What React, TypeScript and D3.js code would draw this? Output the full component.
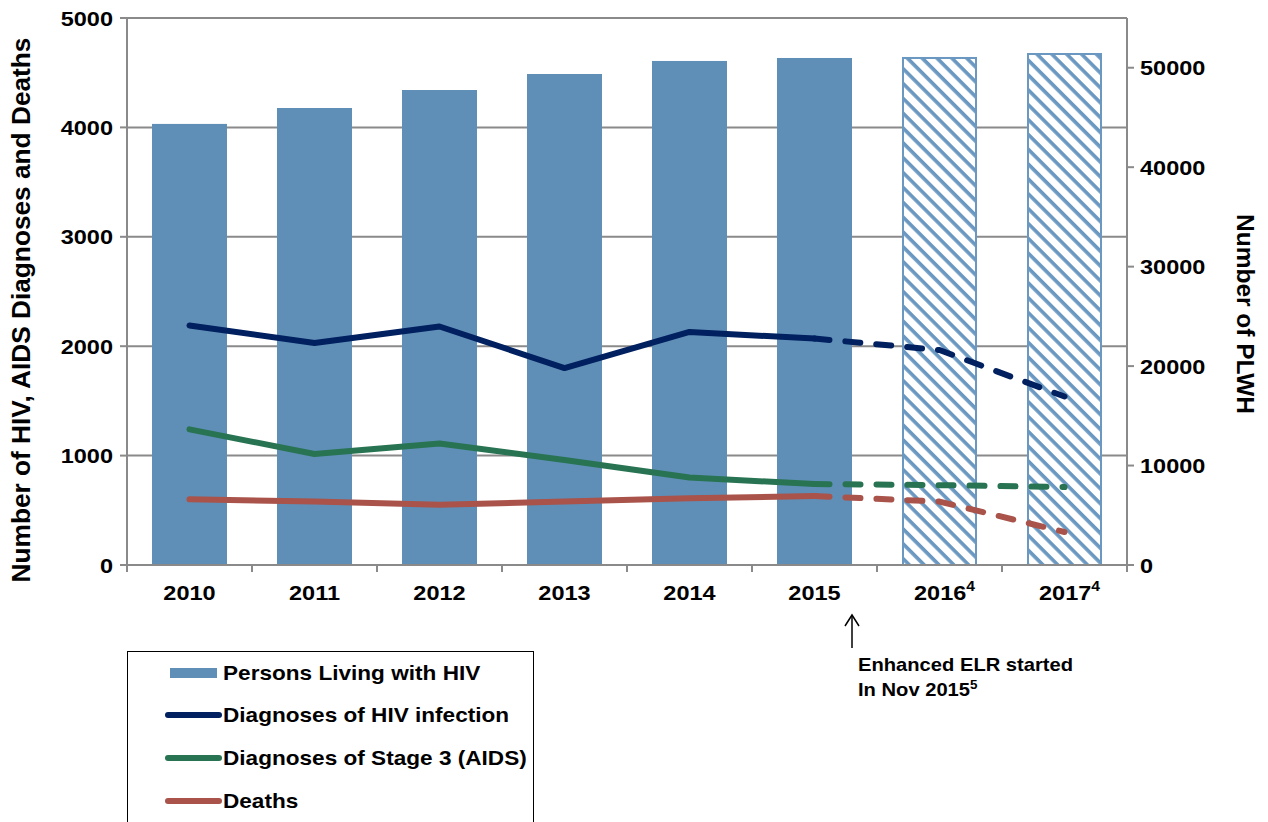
import React from 'react';
import * as d3 from 'd3';

const years = ['2010', '2011', '2012', '2013', '2014', '2015', '2016', '2017'];
const yearSup = ['', '', '', '', '', '', '4', '4'];
const plwh = [44350, 45950, 47760, 49370, 50680, 50980, 50980, 51380];
const projected = [false, false, false, false, false, false, true, true];
const hivDiagnoses = [2190, 2030, 2180, 1800, 2130, 2070, 1965, 1540];
const aidsDiagnoses = [1240, 1015, 1110, 960, 800, 740, 730, 712];
const deaths = [600, 580, 550, 580, 610, 630, 580, 302];
const leftTicks = [0, 1000, 2000, 3000, 4000, 5000];
const rightTicks = [0, 10000, 20000, 30000, 40000, 50000];

const barColor = '#5f8fb7';
const hatchColor = '#6a98c1';
const navy = '#002060';
const green = '#287352';
const red = '#a9534a';
const grid = '#8a8a8a';
const font = '"Liberation Sans", Arial, sans-serif';

const series = [
  { name: 'Diagnoses of HIV infection', values: hivDiagnoses, color: navy },
  { name: 'Diagnoses of Stage 3 (AIDS)', values: aidsDiagnoses, color: green },
  { name: 'Deaths', values: deaths, color: red },
];

// bold text, stretched a little along its baseline like the original rendering
const T: React.FC<{ x: number; y: number; size: number; sx?: number; rot?: number; anchor?: string; children: React.ReactNode }> =
  ({ x, y, size, sx = 1.12, rot = 0, anchor = 'start', children }) => (
    <g transform={`translate(${x},${y}) rotate(${rot}) scale(${sx},1)`}>
      <text x={0} y={0} fontSize={size} fontWeight="bold" textAnchor={anchor}>{children}</text>
    </g>
  );

const App: React.FC = () => {
  const left = 127, right = 1127, top = 18, bottom = 565;

  const x = d3.scaleBand().domain(years).range([left, right]).paddingInner(0.4).paddingOuter(0.2);
  const band = d3.scaleBand().domain(years).range([left, right]);
  const yL = d3.scaleLinear().domain([0, 5000]).range([bottom, top]);
  const yR = d3.scaleLinear().domain([0, 55000]).range([bottom, top]);

  const cx = (i: number) => (x(years[i]) as number) + x.bandwidth() / 2;
  const line = d3.line<[number, number]>().x(d => d[0]).y(d => d[1]);

  return (
    <svg width={1268} height={822} style={{ position: 'absolute', left: 0, top: 0, display: 'block' }} fontFamily={font}>
      <defs>
        <pattern id="hatch" width={10.5} height={10.5} patternUnits="userSpaceOnUse" patternTransform="rotate(-45)">
          <rect width={10.5} height={10.5} fill="#fff" />
          <line x1={2} y1={0} x2={2} y2={10.5} stroke={hatchColor} strokeWidth={3.6} />
        </pattern>
      </defs>
      <rect width={1268} height={822} fill="#fff" />

      {/* grid lines */}
      {leftTicks.filter(t => t > 0).map(t => (
        <line key={t} x1={left} x2={right} y1={yL(t)} y2={yL(t)} stroke={grid} strokeWidth={2} />
      ))}

      {/* bars */}
      {years.map((yr, i) => projected[i] ? (
        <rect key={yr} x={(x(yr) as number) + 1} y={yR(plwh[i])} width={x.bandwidth() - 2} height={bottom - yR(plwh[i])}
          fill="url(#hatch)" stroke={hatchColor} strokeWidth={2} />
      ) : (
        <rect key={yr} x={x(yr)} y={yR(plwh[i])} width={x.bandwidth()} height={bottom - yR(plwh[i])} fill={barColor} />
      ))}

      {/* axes */}
      <line x1={left} x2={left} y1={top} y2={bottom} stroke={grid} strokeWidth={2} />
      <line x1={right} x2={right} y1={top} y2={bottom} stroke={grid} strokeWidth={2} />
      <line x1={left - 7} x2={right} y1={bottom} y2={bottom} stroke={grid} strokeWidth={2} />
      {leftTicks.map(t => (
        <g key={t}>
          <line x1={left - 7} x2={left} y1={yL(t)} y2={yL(t)} stroke={grid} strokeWidth={2} />
          <T x={113} y={yL(t) + 7.5} size={21} anchor="end">{t}</T>
        </g>
      ))}
      {rightTicks.map(t => (
        <g key={t}>
          <line x1={right} x2={right + 7} y1={yR(t)} y2={yR(t)} stroke={grid} strokeWidth={2} />
          <T x={1140} y={yR(t) + 7.5} size={21}>{t}</T>
        </g>
      ))}
      {years.map(yr => (
        <line key={yr} x1={band(yr)} x2={band(yr)} y1={bottom} y2={bottom + 7} stroke={grid} strokeWidth={2} />
      ))}
      <line x1={right} x2={right} y1={bottom} y2={bottom + 7} stroke={grid} strokeWidth={2} />
      {years.map((yr, i) => (
        <T key={yr} x={cx(i) + (yearSup[i] ? 5 : 0)} y={600} size={21} anchor="middle">
          {yr}
          {yearSup[i] && <tspan fontSize={14} dy={-9}>{yearSup[i]}</tspan>}
        </T>
      ))}

      {/* lines */}
      {series.map(s => {
        const pts = s.values.map((v, i) => [cx(i), yL(v)] as [number, number]);
        return (
          <g key={s.name}>
            <path d={line(pts.slice(0, 6)) || ''} fill="none" stroke={s.color} strokeWidth={6}
              strokeLinecap="round" strokeLinejoin="round" />
            <path d={line(pts.slice(5)) || ''} fill="none" stroke={s.color} strokeWidth={6}
              strokeLinecap="round" strokeLinejoin="round" strokeDasharray="15 16" />
          </g>
        );
      })}

      {/* axis titles */}
      <T x={30} y={310} size={25} sx={1.05} rot={-90} anchor="middle">Number of HIV, AIDS Diagnoses and Deaths</T>
      <T x={1237} y={314} size={24} sx={1.02} rot={90} anchor="middle">Number of PLWH</T>

      {/* annotation */}
      <line x1={852} x2={852} y1={648} y2={616} stroke="#000" strokeWidth={1.5} />
      <path d="M845,626 L852,615 L859,626" fill="none" stroke="#000" strokeWidth={1.5} />
      <T x={858} y={671} size={18} sx={1.12}>Enhanced ELR started</T>
      <T x={858} y={696} size={18} sx={1.12}>
        In Nov 2015<tspan fontSize={12} dy={-7}>5</tspan>
      </T>

      {/* legend */}
      <rect x={127.5} y={651.5} width={406} height={200} fill="#fff" stroke="#000" strokeWidth={1} />
      <rect x={170} y={668} width={47} height={10} fill={barColor} />
      <T x={223} y={680} size={20} sx={1.13}>Persons Living with HIV</T>
      {series.map((s, i) => (
        <g key={s.name}>
          <line x1={168} x2={219} y1={715 + i * 43} y2={715 + i * 43} stroke={s.color} strokeWidth={6} strokeLinecap="round" />
          <T x={223} y={722 + i * 43} size={20} sx={1.13}>{s.name}</T>
        </g>
      ))}
    </svg>
  );
};

export default App;
